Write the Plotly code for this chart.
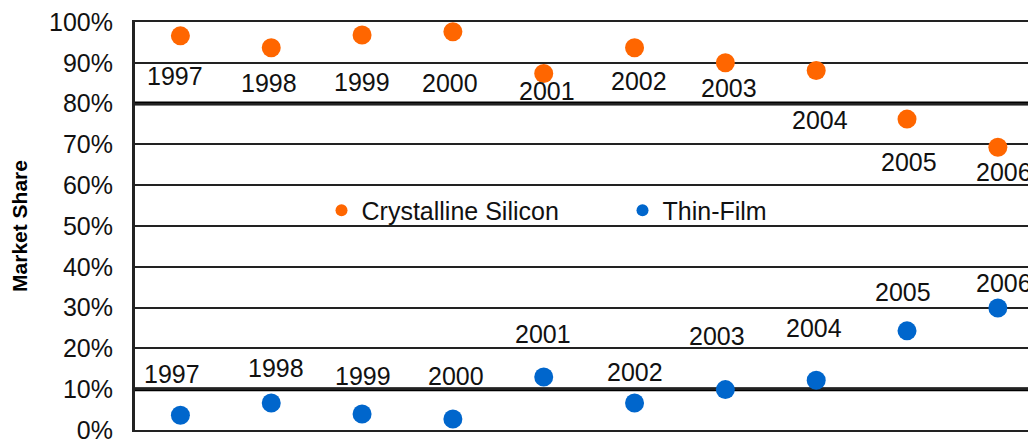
import plotly.graph_objects as go

years = ["1997", "1998", "1999", "2000", "2001", "2002", "2003", "2004", "2005", "2006"]
crystalline = [0.966, 0.937, 0.968, 0.976, 0.874, 0.937, 0.900, 0.881, 0.762, 0.693]
thin_film = [0.036, 0.066, 0.039, 0.027, 0.130, 0.066, 0.099, 0.122, 0.243, 0.299]

# label offsets in px (xshift, yshift) - manual label placement as in the original
cs_label_dx = [-5, -2, 0, -3, 3, 4, 4, 4, 2, 6]
cs_label_dy = [-40, -35, -47, -51, -18, -33, -25, -49, -43, -25]
tf_label_dx = [-8, 5, 1, 3, -1, 0, -8, -2, -4, 6]
tf_label_dy = [41, 35, 38, 43, 43, 31, 54, 52, 39, 25]

emphasized_levels = [0.1, 0.8]

ORANGE = "#FF6600"
BLUE = "#0066CC"
FONT = "Liberation Sans"
FS = 25

fig = go.Figure()
fig.add_trace(go.Scatter(x=years, y=crystalline, mode="markers", name="Crystalline Silicon",
                         marker=dict(color=ORANGE, size=19)))
fig.add_trace(go.Scatter(x=years, y=thin_film, mode="markers", name="Thin-Film",
                         marker=dict(color=BLUE, size=19)))

for lvl in emphasized_levels:
    fig.add_hline(y=lvl, line=dict(color="#000", width=4), layer="below")

annotations = []
for i, yr in enumerate(years):
    annotations.append(dict(x=i, y=crystalline[i], xref="x", yref="y", text=yr, showarrow=False,
                            xshift=cs_label_dx[i], yshift=cs_label_dy[i],
                            font=dict(family=FONT, size=FS, color="#111")))
    annotations.append(dict(x=i, y=thin_film[i], xref="x", yref="y", text=yr, showarrow=False,
                            xshift=tf_label_dx[i], yshift=tf_label_dy[i],
                            font=dict(family=FONT, size=FS, color="#111")))

fig.update_layout(
    width=1028, height=437,
    margin=dict(l=125, r=0, t=11, b=15),
    paper_bgcolor="white", plot_bgcolor="white",
    font=dict(family=FONT, size=FS, color="#111"),
    showlegend=True,
    legend=dict(orientation="h", x=0.207, y=0.538, xanchor="left", yanchor="middle",
                bgcolor="rgba(0,0,0,0)", font=dict(family=FONT, size=FS, color="#111"),
                entrywidth=256, itemsizing="constant"),
    annotations=annotations,
    xaxis=dict(type="category", range=[-0.5, 9.42], showticklabels=False, showgrid=False,
               showline=True, linecolor="#222", linewidth=2, mirror=True, zeroline=False,
               fixedrange=True),
    yaxis=dict(range=[0, 1], dtick=0.1, tickformat=".0%", showgrid=True, gridcolor="#222",
               gridwidth=2, showline=True, linecolor="#222", linewidth=3, zeroline=False,
               ticks="", ticklabelstandoff=14, ticklabeloverflow="allow",
               tickfont=dict(family=FONT, size=FS, color="#111"),
               title=dict(text="<b>Market Share</b>", font=dict(family=FONT, size=21, color="#000"),
                          standoff=26)),
)

fig.write_html("out.html")
